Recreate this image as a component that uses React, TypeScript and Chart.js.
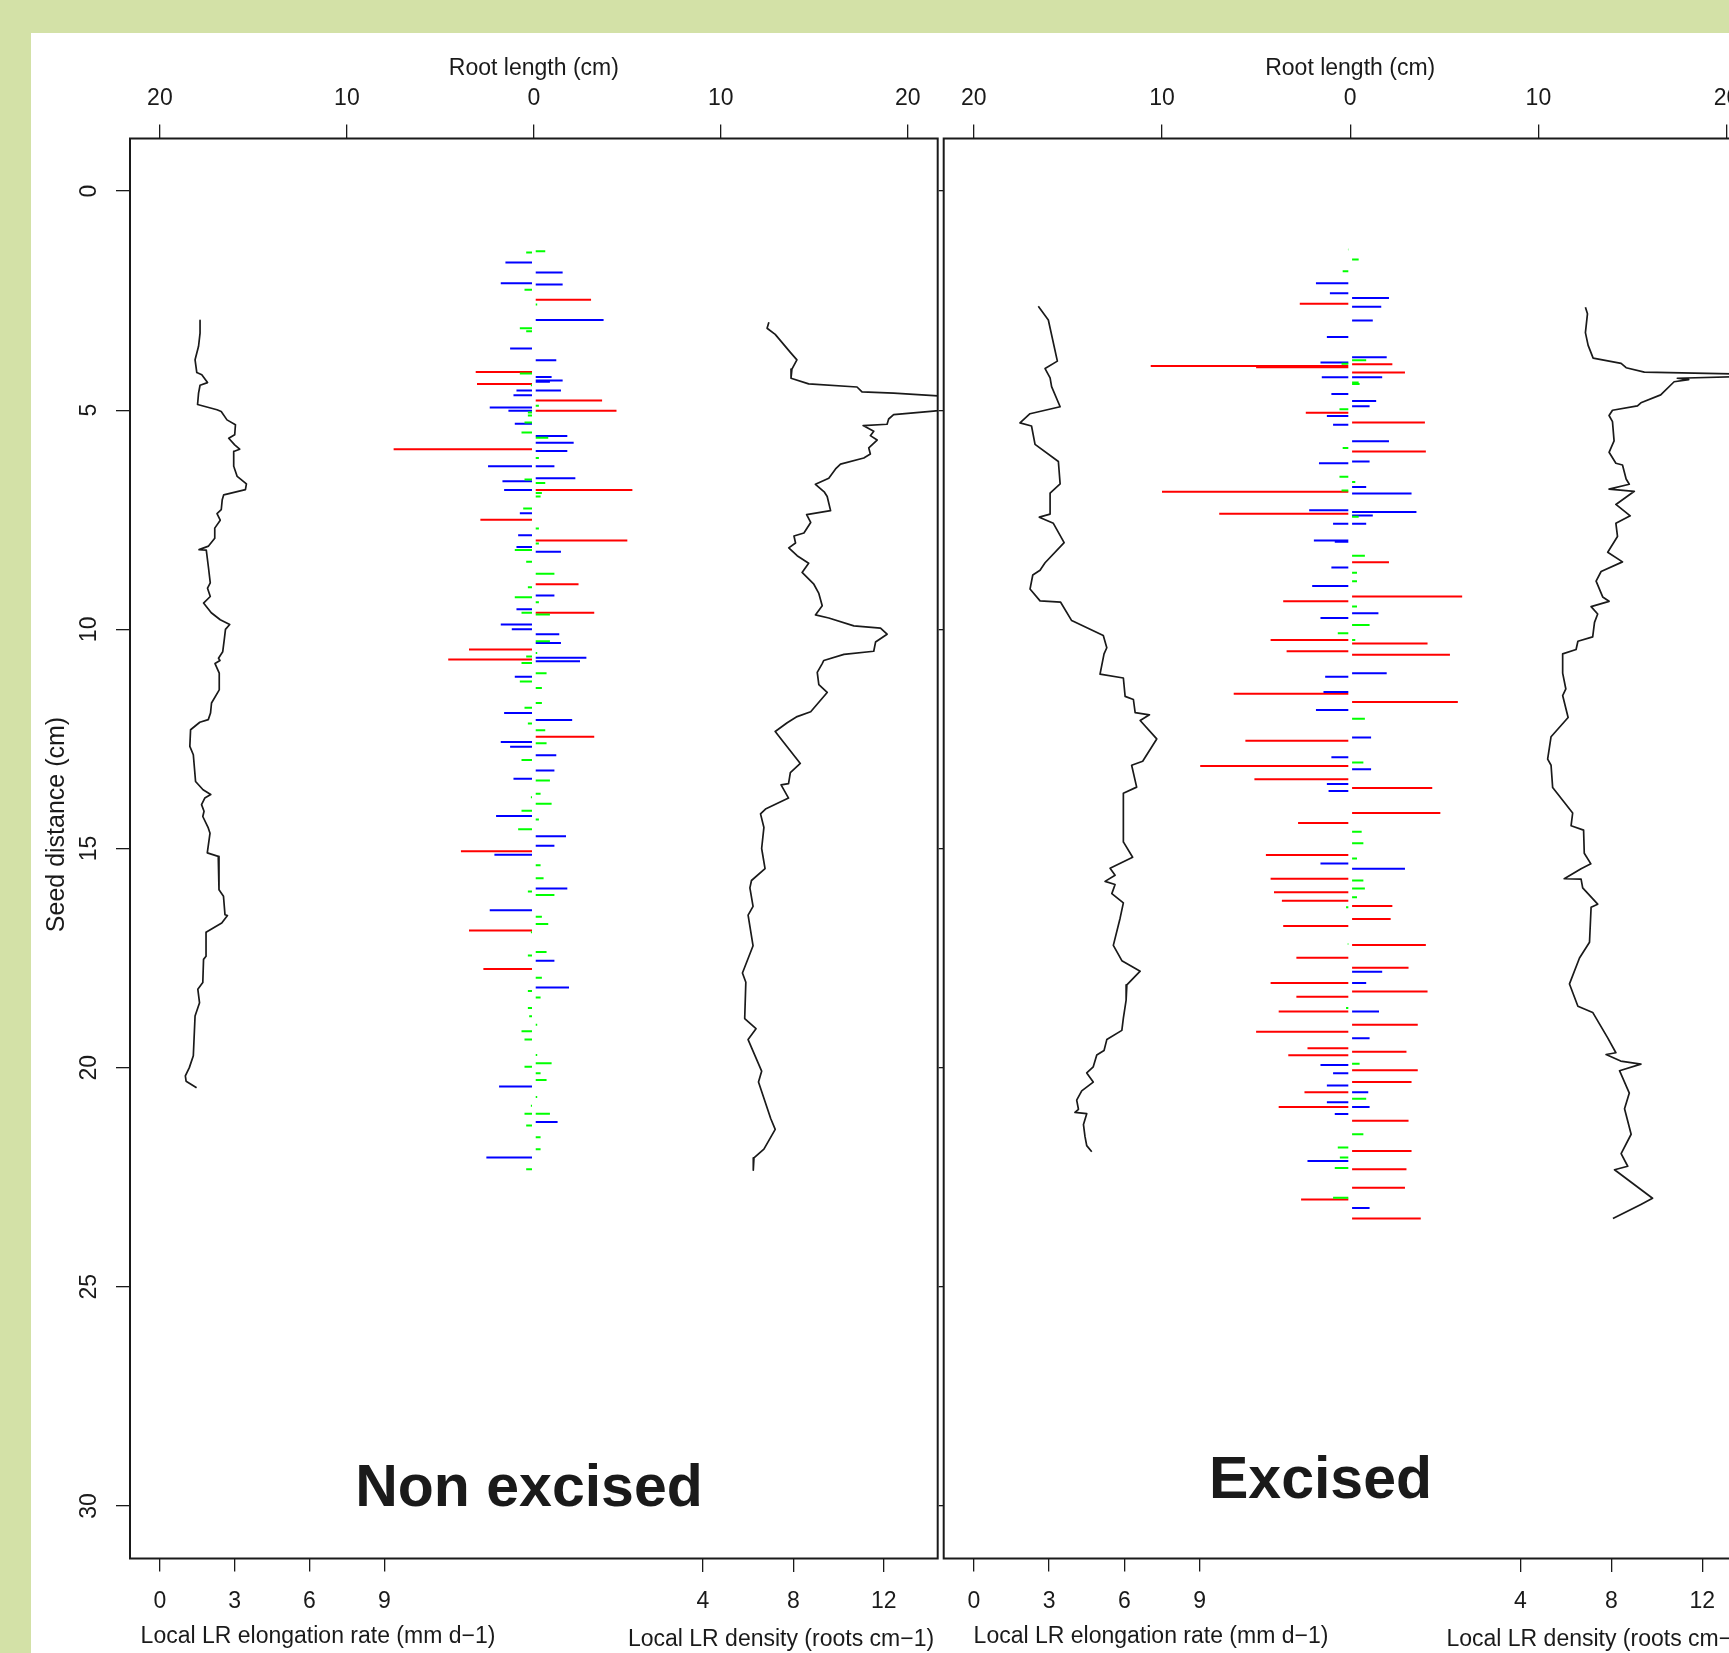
import React, { useEffect, useRef } from "react";
import { Chart, registerables } from "chart.js";
Chart.register(...registerables);

// ---------- tick values ----------
const Y_TICKS = [0, 5, 10, 15, 20, 25, 30];
const ROOT_TICKS = [-20, -10, 0, 10, 20];
const ELONG_TICKS = [0, 3, 6, 9];
const DENS_TICKS = [4, 8, 12];

// ---------- Non excised ----------
// [seed distance (cm), local LR elongation rate (mm d-1)]
const NE_ELONG: [number, number][] = [
  [2.95, 1.61], [3.24, 1.61], [3.54, 1.55], [3.85, 1.41], [4.14, 1.48], [4.19, 1.68], [4.37, 1.91], [4.43, 1.61],
  [4.61, 1.55], [4.87, 1.51], [4.99, 2.29], [5.03, 2.46], [5.22, 2.69], [5.33, 3.03], [5.56, 3.0], [5.64, 2.76],
  [5.79, 3.0], [5.89, 3.2], [5.94, 2.96], [6.28, 2.96], [6.51, 3.1], [6.68, 3.47], [6.81, 3.43], [6.93, 2.56],
  [7.04, 2.5], [7.27, 2.46], [7.36, 2.29], [7.51, 2.42], [7.69, 2.2], [7.92, 2.2], [8.1, 1.95], [8.18, 1.57],
  [8.19, 1.86], [8.6, 1.95], [8.94, 2.02], [9.06, 1.91], [9.25, 2.02], [9.4, 1.75], [9.62, 2.06], [9.78, 2.42],
  [9.89, 2.8], [10.0, 2.63], [10.24, 2.58], [10.51, 2.52], [10.66, 2.35], [10.71, 2.41], [10.78, 2.21], [11.0, 2.38],
  [11.38, 2.38], [11.68, 2.07], [11.91, 2.03], [12.06, 1.94], [12.12, 1.6], [12.29, 1.23], [12.67, 1.2], [12.86, 1.34],
  [13.47, 1.43], [13.66, 1.73], [13.77, 2.04], [13.85, 1.8], [14.0, 1.67], [14.15, 1.77], [14.27, 1.72], [14.53, 1.94],
  [14.65, 2.01], [15.1, 1.9], [15.18, 2.34], [15.94, 2.37], [16.09, 2.55], [16.51, 2.61], [16.53, 2.71], [16.7, 2.48],
  [16.91, 1.85], [17.46, 1.85], [17.53, 1.75], [18.06, 1.72], [18.21, 1.52], [18.52, 1.59], [18.82, 1.41], [19.73, 1.34],
  [20.0, 1.18], [20.19, 1.02], [20.31, 1.05], [20.46, 1.47],
];
// [seed distance (cm), local LR density (roots cm-1)]
const NE_DENS: [number, number][] = [
  [2.99, 6.92], [3.13, 6.84], [3.27, 7.2], [3.68, 7.87], [3.85, 8.16], [4.06, 7.94], [4.27, 7.9], [4.4, 8.68],
  [4.47, 10.82], [4.58, 11.04], [4.61, 12.44], [4.68, 14.6], [4.8, 17.0], [4.95, 15.5], [5.02, 14.2], [5.1, 12.44],
  [5.2, 12.22], [5.32, 12.15], [5.35, 11.09], [5.48, 11.56], [5.58, 11.41], [5.68, 11.71], [5.86, 11.34], [6.0, 11.41],
  [6.09, 11.12], [6.23, 10.09], [6.34, 9.87], [6.55, 9.57], [6.69, 8.98], [6.87, 9.38], [6.97, 9.5], [7.29, 9.65],
  [7.38, 8.59], [7.56, 8.77], [7.8, 8.47], [7.87, 8.03], [8.03, 8.1], [8.14, 7.8], [8.32, 8.17], [8.49, 8.68],
  [8.7, 8.39], [8.97, 8.91], [9.18, 9.13], [9.46, 9.28], [9.67, 8.98], [9.74, 9.57], [9.92, 10.68], [9.97, 11.86],
  [10.11, 12.15], [10.29, 11.64], [10.5, 11.56], [10.57, 10.24], [10.71, 9.35], [10.78, 9.28], [10.98, 9.06], [11.26, 9.13],
  [11.44, 9.5], [11.88, 8.77], [11.99, 8.17], [12.13, 7.73], [12.33, 7.2], [12.58, 7.58], [13.06, 8.31], [13.27, 7.87],
  [13.52, 7.79], [13.55, 7.46], [13.85, 7.79], [14.1, 6.77], [14.21, 6.55], [14.52, 6.7], [15.0, 6.6], [15.46, 6.75],
  [15.73, 6.15], [15.9, 6.08], [16.32, 6.22], [16.52, 6.0], [17.22, 6.22], [17.84, 5.75], [18.05, 5.9], [18.88, 5.85],
  [19.11, 6.35], [19.36, 6.0], [20.08, 6.6], [20.33, 6.46], [21.16, 7.0], [21.41, 7.2], [21.86, 6.7], [22.06, 6.26],
  [22.34, 6.23],
];
// lateral roots: [seed distance (cm), root length (cm), negative = left side]
const NE_RED: [number, number][] = [
  [2.48, 3.06], [4.13, -3.11], [4.4, -3.04], [4.78, 3.65], [5.01, 4.42], [5.89, -7.5], [6.82, 5.27], [7.5, -2.86],
  [7.97, 5.0], [8.97, 2.39], [9.62, 3.23], [10.46, -3.47], [10.69, -4.58], [12.45, 3.23], [15.06, -3.9], [16.87, -3.47],
  [17.75, -2.7],
];
const NE_BLUE: [number, number][] = [
  [1.63, -1.52], [1.86, 1.54], [2.1, -1.77], [2.13, 1.54], [2.94, 3.73], [3.59, -1.27], [3.86, 1.2], [4.24, 0.95],
  [4.32, 1.54], [4.35, 0.86], [4.55, -0.93], [4.55, 1.45], [4.66, -1.09], [4.94, -2.36], [5.01, -1.36], [5.31, -1.02],
  [5.59, 1.79], [5.74, 2.13], [5.93, 1.79], [6.28, -2.45], [6.28, 1.1], [6.55, 2.22], [6.62, -1.68], [6.82, -1.59],
  [7.35, -0.75], [7.85, -0.84], [8.12, -0.93], [8.23, 1.45], [9.23, 1.1], [9.54, -0.93], [9.89, -1.77], [10.0, -1.18],
  [10.11, 1.36], [10.31, 1.45], [10.65, 2.81], [10.73, 2.47], [11.08, -1.02], [11.91, -1.59], [12.07, 2.05], [12.57, -1.77],
  [12.68, -1.27], [12.87, 1.2], [13.22, 1.1], [13.41, -1.09], [14.26, -2.02], [14.72, 1.72], [14.94, 1.1], [15.14, -2.11],
  [15.91, 1.79], [16.41, -2.36], [17.56, 1.1], [18.17, 1.88], [20.43, -1.86], [21.24, 1.27], [22.05, -2.54],
];
const NE_GREEN: [number, number][] = [
  [1.37, 0.61], [1.4, -0.41], [2.25, -0.5], [2.59, 0.18], [3.13, -0.75], [3.2, -0.41], [4.16, -0.75], [4.43, -0.16],
  [4.9, 0.27], [5.05, -0.32], [5.12, -0.32], [5.28, -0.5], [5.51, -0.66], [5.63, 0.77], [6.09, 0.27], [6.58, -0.5],
  [6.66, 0.61], [6.89, 0.43], [6.97, 0.36], [7.24, -0.57], [7.7, 0.27], [8.04, 0.27], [8.19, -1.02], [8.46, -0.41],
  [8.73, 1.1], [9.04, -0.32], [9.27, -1.02], [9.38, 0.27], [9.62, -0.66], [9.66, 0.86], [10.27, 0.86], [10.54, 0.18],
  [10.62, -0.41], [10.77, -0.66], [11.0, 0.68], [11.19, -0.75], [11.34, 0.43], [11.68, 0.43], [11.79, -0.5], [12.15, -0.32],
  [12.3, 0.61], [12.6, 0.68], [12.98, -0.66], [13.45, 0.86], [13.68, -0.1], [13.75, 0.36], [13.83, -0.16], [13.98, 0.95],
  [14.14, -0.66], [14.34, 0.27], [14.56, -0.84], [15.38, 0.36], [15.68, 0.52], [15.98, -0.32], [16.06, 1.1], [16.56, 0.43],
  [16.72, 0.77], [16.91, -0.16], [17.36, 0.68], [17.44, -0.32], [17.95, 0.43], [18.25, -0.32], [18.4, 0.36], [18.64, -0.32],
  [18.83, -0.25], [19.02, 0.18], [19.17, -0.66], [19.36, -0.5], [19.71, 0.18], [19.9, 0.95], [19.98, -0.5], [20.13, 0.36],
  [20.28, 0.68], [20.67, 0.18], [20.87, -0.16], [21.05, -0.5], [21.05, 0.86], [21.32, -0.41], [21.59, 0.36], [21.86, 0.36],
  [22.32, -0.41],
];

// ---------- Excised ----------
const EX_ELONG: [number, number][] = [
  [2.63, 2.57], [2.94, 2.97], [3.88, 3.33], [4.05, 2.84], [4.26, 3.04], [4.46, 3.1], [4.92, 3.44], [5.08, 2.24],
  [5.29, 1.84], [5.36, 2.3], [5.78, 2.44], [6.17, 3.37], [6.68, 3.44], [6.89, 3.04], [7.37, 3.04], [7.44, 2.61],
  [7.58, 3.17], [8.02, 3.6], [8.48, 2.84], [8.65, 2.64], [8.76, 2.35], [9.08, 2.24], [9.35, 2.64], [9.38, 3.46],
  [9.8, 3.9], [10.14, 5.16], [10.42, 5.3], [10.56, 5.19], [11.02, 5.03], [11.11, 5.96], [11.53, 6.03], [11.6, 6.36],
  [11.9, 6.43], [11.95, 7.0], [12.08, 6.63], [12.5, 7.29], [13.01, 6.73], [13.1, 6.29], [13.6, 6.49], [13.74, 5.96],
  [14.85, 5.96], [15.2, 6.33], [15.45, 5.43], [15.61, 5.63], [15.75, 5.23], [15.82, 5.63], [16.03, 5.5], [16.24, 5.96],
  [16.59, 5.83], [17.21, 5.56], [17.56, 5.9], [17.8, 6.63], [18.11, 6.1], [18.46, 6.07], [18.87, 5.96], [19.15, 5.9],
  [19.36, 5.3], [19.61, 5.19], [19.71, 4.9], [19.98, 4.76], [20.12, 4.5], [20.33, 4.76], [20.53, 4.3], [20.74, 4.1],
  [20.95, 4.17], [21.02, 4.03], [21.05, 4.5], [21.3, 4.37], [21.57, 4.43], [21.78, 4.5], [21.92, 4.7],
];
const EX_DENS: [number, number][] = [
  [2.65, 6.86], [2.8, 6.95], [3.23, 6.86], [3.52, 6.98], [3.81, 7.2], [3.93, 8.43], [4.03, 8.65], [4.13, 9.45],
  [4.2, 16.0], [4.27, 10.9], [4.3, 11.4], [4.35, 10.76], [4.65, 10.17], [4.83, 9.3], [4.9, 9.15], [5.0, 8.05],
  [5.12, 7.9], [5.26, 8.05], [5.7, 8.12], [5.96, 7.9], [6.21, 8.2], [6.25, 8.49], [6.57, 8.65], [6.69, 8.79],
  [6.8, 7.9], [6.85, 9.01], [7.15, 8.2], [7.41, 8.83], [7.58, 8.2], [7.88, 8.27], [8.24, 7.84], [8.46, 8.49],
  [8.68, 7.55], [8.9, 7.33], [9.26, 7.62], [9.36, 7.9], [9.48, 7.11], [9.65, 7.4], [9.84, 7.26], [10.17, 7.18],
  [10.27, 6.53], [10.46, 6.45], [10.56, 5.86], [11.0, 5.86], [11.36, 6.0], [11.51, 5.86], [12.01, 6.1], [12.45, 5.35],
  [12.96, 5.2], [13.1, 5.35], [13.61, 5.42], [14.19, 6.3], [14.48, 6.23], [14.58, 6.78], [15.11, 6.81], [15.35, 7.1],
  [15.46, 6.67], [15.69, 5.93], [15.7, 6.67], [15.9, 6.74], [16.27, 7.4], [16.34, 7.11], [17.14, 7.04], [17.5, 6.6],
  [18.09, 6.16], [18.6, 6.53], [18.74, 7.18], [19.32, 7.84], [19.66, 8.2], [19.7, 7.77], [19.85, 8.41], [19.92, 9.3],
  [20.07, 8.36], [20.58, 8.79], [20.94, 8.58], [21.52, 8.87], [21.96, 8.43], [22.25, 8.72], [22.33, 8.14], [22.98, 9.81],
  [23.12, 9.3], [23.44, 8.07],
];
const EX_RED: [number, number][] = [
  [2.57, -2.68], [3.95, 2.24], [3.99, -10.6], [4.02, -5.0], [4.14, 2.91], [5.06, -2.36], [5.28, 3.97], [5.94, 4.02],
  [6.86, -10.0], [7.36, -6.96], [8.47, 2.06], [9.25, 5.95], [9.36, -3.56], [10.24, -4.23], [10.32, 4.11], [10.5, -3.38],
  [10.58, 5.3], [11.47, -6.19], [11.66, 5.72], [12.54, -5.57], [13.12, -7.97], [13.42, -5.09], [13.62, 4.36], [14.19, 4.79],
  [14.42, -2.77], [15.15, -4.48], [15.69, -4.23], [16.0, -4.05], [16.19, -3.63], [16.31, 2.24], [16.61, 2.15], [16.77, -3.56],
  [17.2, 4.02], [17.49, -2.86], [17.72, 3.1], [18.07, -4.23], [18.26, 4.11], [18.38, -2.86], [18.72, -3.8], [19.02, 3.59],
  [19.18, -5.0], [19.56, -2.27], [19.64, 2.99], [19.72, -3.29], [20.06, 3.59], [20.33, 3.26], [20.56, -2.43], [20.9, -3.8],
  [21.21, 3.1], [21.9, 3.26], [22.32, 2.99], [22.74, 2.91], [23.01, -2.61], [23.44, 3.75],
];
const EX_BLUE: [number, number][] = [
  [2.1, -1.82], [2.33, -1.08], [2.44, 2.06], [2.64, 1.65], [2.95, 1.2], [3.33, -1.24], [3.79, 1.94], [3.91, -1.58],
  [4.25, -1.51], [4.25, 1.7], [4.63, -1.0], [4.79, 1.38], [4.91, 1.03], [5.13, -1.24], [5.33, -0.91], [5.71, 2.06],
  [6.17, 1.03], [6.21, -1.66], [6.75, 0.85], [6.9, 3.26], [7.28, -2.18], [7.32, 3.52], [7.4, 1.2], [7.59, -0.91],
  [7.59, 0.85], [7.97, -1.93], [8.0, -0.82], [8.59, -1.0], [9.01, -2.02], [9.63, 1.5], [9.74, -1.58], [11.0, 1.94],
  [11.08, -1.33], [11.43, -1.42], [11.84, -1.82], [12.47, 1.11], [12.92, -1.0], [13.19, 1.11], [13.53, -1.24], [13.69, -1.15],
  [15.34, -1.58], [15.46, 2.91], [17.81, 1.7], [18.07, 0.85], [18.72, 1.53], [19.33, 1.03], [19.94, -1.58], [20.13, -0.91],
  [20.41, -1.24], [20.56, 0.96], [20.79, -1.24], [20.9, 1.03], [21.06, -0.82], [22.13, -2.27], [23.2, 1.03],
];
const EX_GREEN: [number, number][] = [
  [1.15, 0.12], [1.33, -0.12], [1.56, 0.45], [1.83, -0.4], [3.86, 0.85], [3.94, -0.46], [4.37, 0.45], [4.4, 0.5],
  [4.98, -0.57], [5.86, -0.4], [6.52, -0.57], [6.64, 0.27], [6.83, -0.46], [7.43, 0.45], [8.32, 0.78], [8.71, 0.36],
  [8.9, 0.36], [9.48, 0.36], [9.9, 1.03], [10.09, -0.66], [10.24, 0.27], [12.04, 0.78], [13.04, 0.7], [14.62, 0.61],
  [14.88, 0.7], [15.23, 0.36], [15.73, 0.7], [15.91, 0.78], [16.11, 0.36], [16.34, -0.22], [17.18, -0.13], [18.64, -0.22],
  [19.91, 0.5], [20.71, 0.85], [21.52, 0.7], [21.82, -0.66], [22.05, -0.55], [22.29, -0.82], [22.97, -0.91],
];

// ---------- styling / layout ----------
const FONT = "'Liberation Sans', Arial, Helvetica, sans-serif";
const INK = "#1a1a1a";
const GAP = 0.1; // small gap around the root axis, in cm

type Pt = [number, number];
interface PanelSpec {
  elong: Pt[]; dens: Pt[]; red: Pt[]; blue: Pt[]; green: Pt[];
  name: string;
  leftW: number; topH: number; bottomH: number; padRight: number;
  showYLabels: boolean; yTickLen: number;
  elongTitleDx: number; densTitleDx: number; nameDx: number; nameDy: number;
}

function curve(pts: Pt[]) {
  return pts.map(([d, v]) => ({ x: v, y: d }));
}
function segs(pts: Pt[]) {
  const out: any[] = [];
  for (const [d, L] of pts) {
    out.push({ x: L < 0 ? -GAP : GAP, y: d }, { x: L, y: d }, { x: null, y: null });
  }
  return out;
}
const fixTicks = (vals: number[]) => (scale: any) => {
  scale.ticks = vals.map((v) => ({ value: v }));
};

function buildConfig(p: PanelSpec): any {
  const tickFont = { family: FONT, size: 23 };
  const lineDs = (data: any[], axis: string, color: string, width: number) => ({
    data, xAxisID: axis, yAxisID: "y", showLine: true, borderColor: color, backgroundColor: color,
    borderWidth: width, pointRadius: 0, pointHoverRadius: 0, tension: 0, borderJoinStyle: "round", fill: false,
  });
  const decor = {
    id: "decor",
    afterDraw(chart: any) {
      const { ctx, chartArea: a } = chart;
      ctx.save();
      ctx.strokeStyle = INK;
      ctx.lineWidth = 2;
      ctx.strokeRect(a.left, a.top, a.right - a.left, a.bottom - a.top);
      ctx.fillStyle = INK;
      ctx.font = `23px ${FONT}`;
      ctx.textAlign = "center";
      ctx.textBaseline = "middle";
      ctx.fillText("Local LR elongation rate (mm d\u22121)", a.left + p.elongTitleDx, a.bottom + 77.7);
      ctx.fillText("Local LR density (roots cm\u22121)", a.left + p.densTitleDx, a.bottom + 81);
      if (p.showYLabels) {
        ctx.save();
        ctx.translate(a.left - 73, a.top + 686);
        ctx.rotate(-Math.PI / 2);
        ctx.font = `25px ${FONT}`;
        ctx.fillText("Seed distance (cm)", 0, 0);
        ctx.restore();
      }
      ctx.font = `bold 59px ${FONT}`;
      ctx.textBaseline = "alphabetic";
      ctx.fillText(p.name, a.left + p.nameDx, a.bottom + p.nameDy);
      ctx.restore();
    },
  };
  const bottomAxis = (min: number, max: number, ticks: number[], position: any) => ({
    type: "linear", axis: "x", position, min, max,
    afterBuildTicks: fixTicks(ticks),
    afterFit: (s: any) => { s.height = p.bottomH; },
    grid: { drawOnChartArea: false, drawTicks: true, tickLength: 13, color: INK, lineWidth: 1.3 },
    border: { display: false },
    ticks: { font: tickFont, color: INK, padding: 16.7, maxRotation: 0, autoSkip: false },
    title: { display: false },
  });
  return {
    type: "scatter",
    data: {
      datasets: [
        lineDs(segs(p.green), "xr", "#00ff00", 2),
        lineDs(segs(p.blue), "xr", "#0000ff", 2),
        lineDs(segs(p.red), "xr", "#ff0000", 2),
        lineDs(curve(p.elong), "xe", INK, 1.7),
        lineDs(curve(p.dens), "xd", INK, 1.7),
      ],
    },
    options: {
      animation: false,
      responsive: false,
      maintainAspectRatio: false,
      events: [],
      layout: { padding: { left: 0, top: 0, right: p.padRight, bottom: 0 } },
      plugins: { legend: { display: false }, tooltip: { enabled: false }, title: { display: false } },
      scales: {
        y: {
          type: "linear", position: "left", reverse: true, min: -1.2, max: 31.2,
          afterBuildTicks: fixTicks(Y_TICKS),
          afterFit: (s: any) => { s.width = p.leftW; },
          grid: { drawOnChartArea: false, drawTicks: true, tickLength: p.yTickLen, color: INK, lineWidth: 1.3 },
          border: { display: false },
          ticks: {
            display: p.showYLabels, font: tickFont, color: INK, minRotation: 90, maxRotation: 90,
            crossAlign: "center", padding: 13.9, autoSkip: false,
          },
          title: { display: false },
        },
        xr: {
          type: "linear", axis: "x", position: "top", min: -21.6, max: 21.6,
          afterBuildTicks: fixTicks(ROOT_TICKS),
          afterFit: (s: any) => { s.height = p.topH; },
          grid: { drawOnChartArea: false, drawTicks: true, tickLength: 14, color: INK, lineWidth: 1.3 },
          border: { display: false },
          ticks: {
            font: tickFont, color: INK, padding: 11.8, maxRotation: 0, autoSkip: false,
            callback: (v: any) => String(Math.abs(Number(v))),
          },
          title: {
            display: true, text: "Root length (cm)", font: tickFont, color: INK,
            padding: { top: 21.8, bottom: 0 },
          },
        },
        xe: bottomAxis(-1.2, 31.2, ELONG_TICKS, "bottom"),
        xd: bottomAxis(-21.35, 14.39, DENS_TICKS, { y: 31.2 }),
      },
    },
    plugins: [decor],
  };
}

const LEFT: PanelSpec = {
  elong: NE_ELONG, dens: NE_DENS, red: NE_RED, blue: NE_BLUE, green: NE_GREEN,
  name: "Non excised",
  leftW: 99, topH: 105.5, bottomH: 94.5, padRight: 22.3,
  showYLabels: true, yTickLen: 14,
  elongTitleDx: 188, densTitleDx: 651, nameDx: 399, nameDy: -52.5,
};
const RIGHT: PanelSpec = {
  elong: EX_ELONG, dens: EX_DENS, red: EX_RED, blue: EX_BLUE, green: EX_GREEN,
  name: "Excised",
  leftW: 43.7, topH: 105.5, bottomH: 94.5, padRight: 23.3,
  showYLabels: false, yTickLen: 5,
  elongTitleDx: 207.3, densTitleDx: 655.8, nameDx: 376.8, nameDy: -61,
};

export default function App() {
  const leftRef = useRef<HTMLCanvasElement>(null);
  const rightRef = useRef<HTMLCanvasElement>(null);
  useEffect(() => {
    const c1 = new Chart(leftRef.current as HTMLCanvasElement, buildConfig(LEFT));
    const c2 = new Chart(rightRef.current as HTMLCanvasElement, buildConfig(RIGHT));
    return () => {
      c1.destroy();
      c2.destroy();
    };
  }, []);
  return (
    <div style={{ position: "fixed", left: 0, top: 0, width: 1729, height: 1653, overflow: "hidden", background: "#d3e1a7" }}>
      <div style={{ position: "absolute", left: 31, top: 33, right: 0, bottom: 0, background: "#ffffff" }} />
      <canvas ref={leftRef} width={929} height={1620}
        style={{ position: "absolute", left: 31, top: 33, width: 929, height: 1620, display: "block" }} />
      <canvas ref={rightRef} width={880} height={1620}
        style={{ position: "absolute", left: 900, top: 33, width: 880, height: 1620, display: "block" }} />
    </div>
  );
}
